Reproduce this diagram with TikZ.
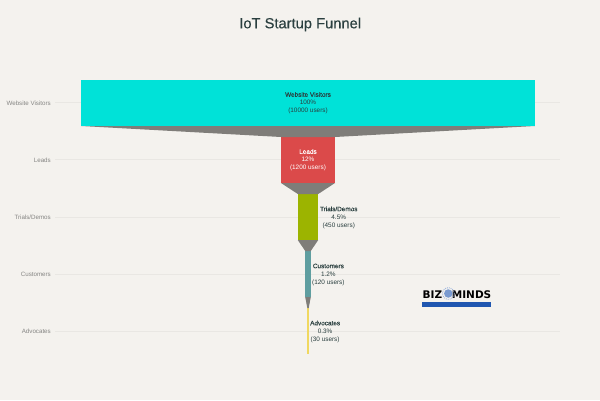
\documentclass[tikz,border=0pt]{standalone}
\usepackage{fontspec}
\setmainfont{Liberation Sans}
\newfontfamily\medfont[FakeBold=0.25]{Liberation Sans}
\newfontfamily\logofont{DejaVu Sans}
\definecolor{paper}{HTML}{F4F2EE}
\definecolor{gridline}{HTML}{E9E7E3}
\definecolor{neck}{HTML}{7F7D79}
\definecolor{ink}{HTML}{2A3F3F}
\definecolor{axisink}{HTML}{858583}
\definecolor{cyanbar}{HTML}{00E2D8}
\definecolor{redbar}{HTML}{DB4A4A}
\definecolor{greenbar}{HTML}{9CB400}
\definecolor{tealbar}{HTML}{5F9EA0}
\definecolor{yellowbar}{HTML}{F0D860}
\definecolor{bandblue}{HTML}{1F56B0}
\newcommand{\hd}[1]{{\medfont #1}}
\tikzset{
  bar/.style={rectangle,inner sep=0pt,outer sep=0pt,minimum height=46pt},
  axislabel/.style={anchor=east,inner sep=0pt,text=axisink,font=\fontsize{6.2}{8}\selectfont},
  barlabel/.style={align=center,inner sep=0pt,text=ink,font=\fontsize{6.4}{8.1}\selectfont},
  gridrule/.style={gridline,line width=0.8pt},
  neckfill/.style={fill=neck,draw=none},
  logotext/.style={inner sep=0pt,text=black,font=\fontsize{10.5}{11}\logofont\bfseries},
}
\begin{document}
\begin{tikzpicture}[x=1pt,y=-1pt]
    \def\m{308}
    \fill[paper] (0,0) rectangle (600,400);
    \useasboundingbox (0,0) rectangle (600,400);
    \node [inner sep=0pt,text=ink,font=\fontsize{14.7}{16}\medfont] (title) at (300.2,24.5) {IoT Startup Funnel};
    % axis
    \node [axislabel] (L0) at (51,103.2) {Website Visitors};
    \node [axislabel] (L1) at (51,160.2) {Leads};
    \node [axislabel] (L2) at (51,217.4) {Trials/Demos};
    \node [axislabel] (L3) at (51,274.5) {Customers};
    \node [axislabel] (L4) at (51,331.5) {Advocates};
    \coordinate (E0) at (560,102.5);
    \coordinate (E1) at (560,159.5);
    \coordinate (E2) at (560,217);
    \coordinate (E3) at (560,274);
    \coordinate (E4) at (560,331);
    \foreach \i in {0,...,4} {
      \draw [gridrule] ([xshift=4pt]L\i.east |- E\i) -- (E\i);
    }
    % bars
    \node [bar,fill=cyanbar,minimum width=453.5pt] (B0) at (\m,103) {};
    \node [bar,fill=redbar,minimum width=54pt] (B1) at (\m,160) {};
    \node [bar,fill=greenbar,minimum width=20.4pt] (B2) at (\m,217) {};
    \node [bar,fill=tealbar,minimum width=5.6pt] (B3) at (\m,274) {};
    \node [bar,fill=yellowbar,minimum width=1.4pt] (B4) at (\m,331) {};
    \foreach \i/\j in {0/1,1/2,2/3,3/4} {
      \fill [neckfill] (B\i.south west) -- (B\i.south east) -- (B\j.north east) -- (B\j.north west) -- cycle;
    }
    % texts
    \node [barlabel] (T0) at (\m,103.2) {\hd{Website Visitors}\\100\%\\(10000 users)};
    \node [barlabel,text=white] (T1) at (\m,160.2) {\hd{Leads}\\12\%\\(1200 users)};
    \node [barlabel,anchor=west] (T2) at (319.8,217.6) {\hd{Trials/Demos}\\4.5\%\\(450 users)};
    \node [barlabel,anchor=west] (T3) at (312,274.7) {\hd{Customers}\\1.2\%\\(120 users)};
    \node [barlabel,anchor=west] (T4) at (310,331.7) {\hd{Advocates}\\0.3\%\\(30 users)};
    % logo
    \node [logotext,anchor=west] (biz) at (422.5,295) {BIZ};
    \node [logotext,anchor=east] (minds) at (491.5,295) {MINDS};
    \node [circle,inner sep=0pt,minimum size=8.5pt,fill=bandblue!60] (bulb) at (448.3,293.5) {};
    \draw [bandblue!45,line width=0.9pt,densely dotted] (bulb) circle (5.8pt);
    \node [rectangle,inner sep=0pt,minimum width=69pt,minimum height=4.4pt,fill=bandblue] (band) at (456.5,304.5) {};
  \end{tikzpicture}
\end{document}
